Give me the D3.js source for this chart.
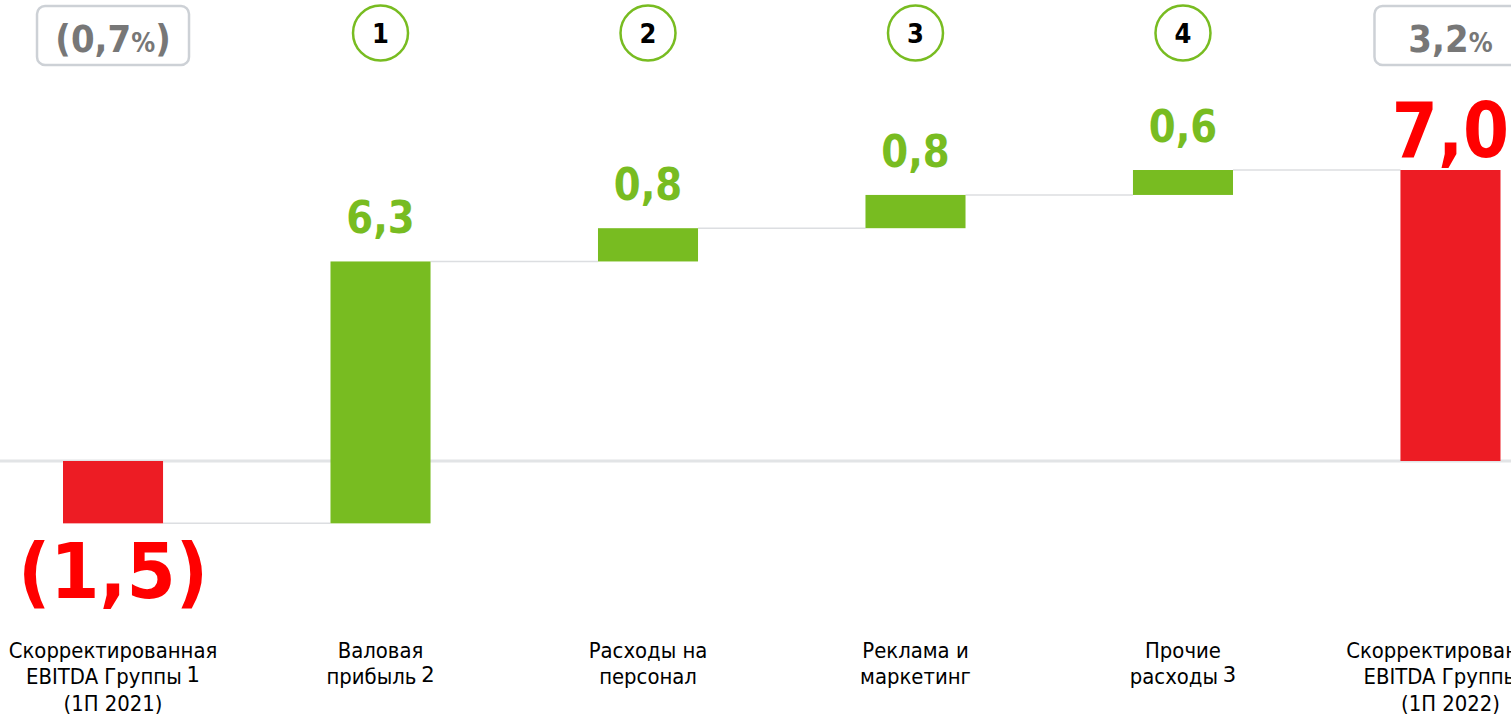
<!DOCTYPE html>
<html>
<head>
<meta charset="utf-8">
<script src="https://cdn.jsdelivr.net/npm/d3@7"></script>
<style>
  html, body { margin: 0; padding: 0; background: #fff; overflow: hidden; }
  svg { display: block; font-family: "DejaVu Sans", Verdana, sans-serif; }
</style>
</head>
<body>
<div id="chart"></div>
<script>
// data
const categories = ["ebitda21", "gross", "staff", "marketing", "other", "ebitda22"];
const labelLines = [
  ["Скорректированная", "EBITDA Группы", "(1П 2021)"],
  ["Валовая", "прибыль"],
  ["Расходы на", "персонал"],
  ["Реклама и", "маркетинг"],
  ["Прочие", "расходы"],
  ["Скорректированная", "EBITDA Группы", "(1П 2022)"]
];
const footnotes = ["1", "2", "", "", "3", "1"];
const footnoteLine = [1, 1, 0, 0, 1, 1];
const values = [-1.5, 6.3, 0.8, 0.8, 0.6, 7.0];
const kinds = ["total", "delta", "delta", "delta", "delta", "total"];
const valueLabels = ["(1,5)", "6,3", "0,8", "0,8", "0,6", "7,0"];
const stepNumbers = ["", "1", "2", "3", "4", ""];
const marginLabels = ["(0,7|%|)", "", "", "", "", "3,2|%|"];

const red = "#ed1c24", redText = "#ff0000", green = "#78bc21", gray = "#777777";

//size
const width = 1511, height = 722;
const svg = d3.select("#chart").append("svg").attr("width", width).attr("height", height);

//data process
let run = 0;
const rows = categories.map((c, i) => {
  let start, end;
  if (kinds[i] === "total") { start = 0; end = values[i]; }
  else { start = run; end = run + values[i]; }
  run = end;
  return { key: c, i, start, end, kind: kinds[i], label: valueLabels[i] };
});

//scales
const x = d3.scaleBand().domain(categories).range([63, 1500.5]).paddingInner(0.626).paddingOuter(0);
const y = d3.scaleLinear().domain([0, 7]).range([461, 170]);
const cx = (d) => x(d.key) + x.bandwidth() / 2;

//zero line
svg.append("line")
  .attr("x1", 0).attr("x2", width)
  .attr("y1", y(0)).attr("y2", y(0))
  .attr("stroke", "#e2e4e6").attr("stroke-width", 3);

//connectors
svg.selectAll("line.conn").data(rows.slice(0, -1)).enter().append("line")
  .attr("class", "conn")
  .attr("x1", (d) => x(d.key) + x.bandwidth())
  .attr("x2", (d) => x(categories[d.i + 1]))
  .attr("y1", (d) => y(d.end)).attr("y2", (d) => y(d.end))
  .attr("stroke", "#dcdee1").attr("stroke-width", 1.5);

//bars
svg.selectAll("rect.bar").data(rows).enter().append("rect")
  .attr("class", "bar")
  .attr("x", (d) => x(d.key))
  .attr("width", x.bandwidth())
  .attr("y", (d) => y(Math.max(d.start, d.end)))
  .attr("height", (d) => Math.abs(y(d.start) - y(d.end)))
  .attr("fill", (d) => (d.kind === "total" ? red : green));

//value labels
svg.selectAll("text.val").data(rows).enter().append("text")
  .attr("class", "val")
  .attr("text-anchor", "middle")
  .attr("font-weight", "bold")
  .attr("font-size", (d) => (d.kind === "total" ? 77 : 45))
  .attr("fill", (d) => (d.kind === "total" ? redText : green))
  .attr("transform", (d) => {
    let ty, sx = 0.86;
    if (d.kind === "total" && d.end < 0) { ty = y(d.end) + 75; sx = 0.92; }
    else if (d.kind === "total") ty = y(d.end) - 13;
    else ty = y(d.end) - 28;
    return `translate(${cx(d)},${ty}) scale(${sx},1)`;
  })
  .text((d) => d.label);

//step circles
const steps = svg.selectAll("g.step").data(rows.filter((d) => stepNumbers[d.i])).enter()
  .append("g").attr("class", "step")
  .attr("transform", (d) => `translate(${cx(d)},33)`);
steps.append("circle").attr("r", 27.5).attr("fill", "#fff")
  .attr("stroke", "#78bc21").attr("stroke-width", 2.5);
steps.append("text")
  .attr("text-anchor", "middle").attr("y", 10)
  .attr("font-weight", "bold").attr("font-size", 27)
  .attr("transform", "scale(0.9,1)")
  .attr("fill", "#000")
  .text((d) => stepNumbers[d.i]);

//margin badges
const badges = svg.selectAll("g.badge").data(rows.filter((d) => marginLabels[d.i])).enter()
  .append("g").attr("class", "badge")
  .attr("transform", (d) => `translate(${cx(d)},0)`);
badges.append("rect")
  .attr("x", -76).attr("y", 6).attr("width", 152).attr("height", 59).attr("rx", 8)
  .attr("fill", "#fff").attr("stroke", "#cdd1d6").attr("stroke-width", 2.5);
const badgeText = badges.append("text")
  .attr("text-anchor", "middle").attr("font-weight", "bold").attr("fill", gray)
  .attr("transform", "translate(0,52) scale(0.92,1)");
badgeText.each(function (d) {
  const parts = marginLabels[d.i].split("|");
  const t = d3.select(this);
  parts.forEach((p, k) => {
    if (!p) return;
    t.append("tspan").attr("font-size", k === 1 ? 26 : 37).text(p);
  });
});

//category labels
const cats = svg.selectAll("text.cat").data(rows).enter().append("text")
  .attr("class", "cat")
  .attr("text-anchor", "middle")
  .attr("font-size", 20.5)
  .attr("fill", "#000")
  .attr("transform", (d) => `translate(${cx(d)},658) scale(0.96,1)`);
cats.each(function (d) {
  const t = d3.select(this);
  labelLines[d.i].forEach((line, k) => {
    const ln = t.append("tspan").attr("x", 0).attr("y", k * 26.5);
    ln.append("tspan").text(line);
    if (footnotes[d.i] && footnoteLine[d.i] === k) {
      ln.append("tspan").attr("dx", 5).attr("dy", -2).attr("font-size", 22).text(footnotes[d.i]);
    }
  });
});
</script>
</body>
</html>
